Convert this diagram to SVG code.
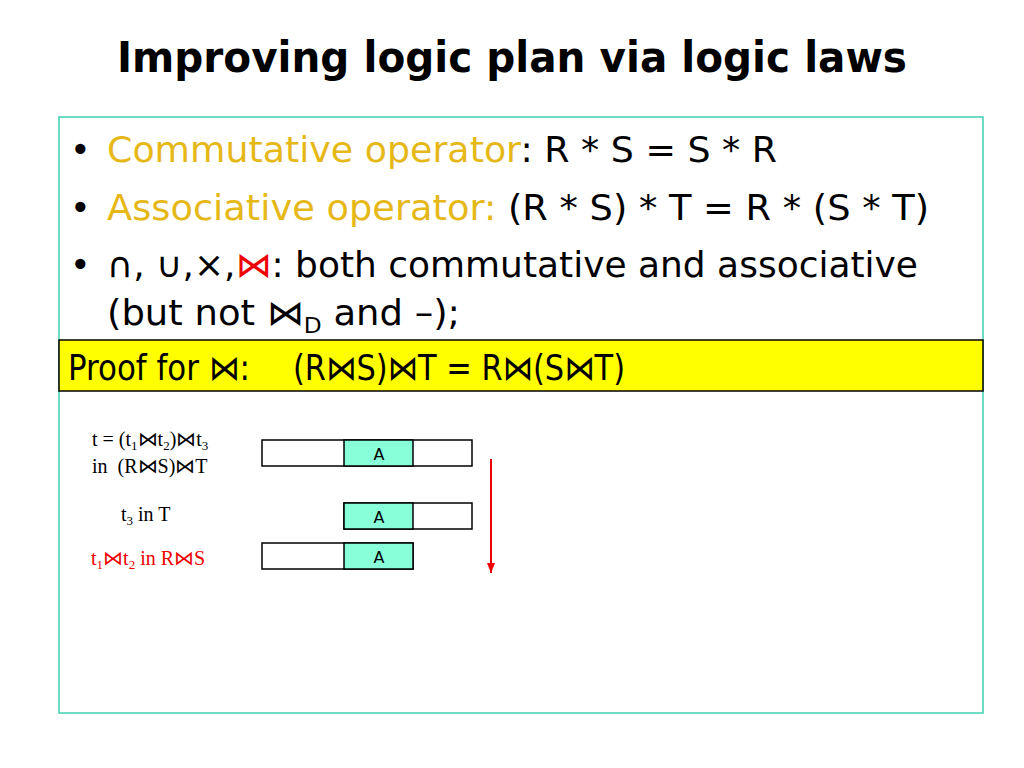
<svg xmlns="http://www.w3.org/2000/svg" width="1024" height="768" viewBox="0 0 1024 768">
<style>
.t{font-family:"DejaVu Sans",Verdana,sans-serif;font-size:35px;fill:#000}
.y{fill:#E6B817}
.s{font-family:"Liberation Serif","Times New Roman",serif;font-size:20px}
.c{fill:#fff;stroke:#000;stroke-width:1.5}
.a{fill:#88FFD8;stroke:#000;stroke-width:1.5}
.al{font-family:"DejaVu Sans",sans-serif;font-size:16px;text-anchor:middle}
</style>
<defs><marker id="ar" markerWidth="12" markerHeight="10" refX="10" refY="5" orient="auto" markerUnits="userSpaceOnUse"><path d="M0,1 L10,5 L0,9 Z" fill="#e00"/></marker></defs>
<rect width="1024" height="768" fill="#fff"/>
<text x="512" y="72" text-anchor="middle" font-family="'DejaVu Sans',Tahoma,sans-serif" font-weight="bold" font-size="42" textLength="790" lengthAdjust="spacingAndGlyphs">Improving logic plan via logic laws</text>
<rect x="59" y="117" width="924" height="596" fill="none" stroke="#3fd0b0" stroke-width="1.5"/>
<g id="text">
<text class="t" x="70" y="162">•</text>
<text class="t" x="107" y="162" textLength="670" lengthAdjust="spacingAndGlyphs"><tspan class="y">Commutative operator</tspan>:  R * S = S * R</text>
<text class="t" x="70" y="220">•</text>
<text class="t" x="107" y="220" textLength="822" lengthAdjust="spacingAndGlyphs"><tspan class="y">Associative operator:</tspan> (R * S) * T = R * (S * T)</text>
<text class="t" x="70" y="277">•</text>
<text class="t" x="107" y="277" textLength="811" lengthAdjust="spacingAndGlyphs">∩, ∪,×,<tspan fill="#e00">⋈</tspan>: both commutative and associative</text>
<text class="t" x="107" y="325" textLength="353" lengthAdjust="spacingAndGlyphs">(but not ⋈<tspan font-size="22" dy="8">D</tspan><tspan dy="-8"> and –);</tspan></text>
</g>
<g id="proof">
<rect x="59" y="340" width="924" height="51" fill="#ffff00" stroke="#000" stroke-width="1.5"/>
<text class="t" x="68" y="380" font-size="30" textLength="182" lengthAdjust="spacingAndGlyphs">Proof for ⋈:</text>
<text class="t" x="293" y="380" font-size="30" textLength="332" lengthAdjust="spacingAndGlyphs">(R⋈S)⋈T = R⋈(S⋈T)</text>
</g>
<g id="labels" class="s">
<text class="s" x="92" y="446">t = (t<tspan font-size="13" dy="4">1</tspan><tspan dy="-4">⋈t</tspan><tspan font-size="13" dy="4">2</tspan><tspan dy="-4">)⋈t</tspan><tspan font-size="13" dy="4">3</tspan></text>
<text class="s" x="92" y="473" xml:space="preserve">in  (R⋈S)⋈T</text>
<text class="s" x="121" y="521">t<tspan font-size="13" dy="4">3</tspan><tspan dy="-4"> in T</tspan></text>
<text class="s" x="91" y="565" fill="#e00">t<tspan font-size="13" dy="4">1</tspan><tspan dy="-4">⋈t</tspan><tspan font-size="13" dy="4">2</tspan><tspan dy="-4"> in R⋈S</tspan></text>
</g>
<g id="tuple1"><rect class="c" x="262" y="440" width="210" height="26"/><rect class="a" x="344" y="440" width="69" height="26"/><text class="al" x="379" y="460">A</text></g>
<g id="tuple2"><rect class="c" x="344" y="503" width="128" height="26"/><rect class="a" x="344" y="503" width="69" height="26"/><text class="al" x="379" y="523">A</text></g>
<g id="tuple3"><rect class="c" x="262" y="543" width="151" height="26"/><rect class="a" x="344" y="543" width="69" height="26"/><text class="al" x="379" y="563">A</text></g>
<g id="connectors"><line x1="491" y1="459" x2="491" y2="573" stroke="#e00" stroke-width="2" marker-end="url(#ar)"/></g>
</svg>
